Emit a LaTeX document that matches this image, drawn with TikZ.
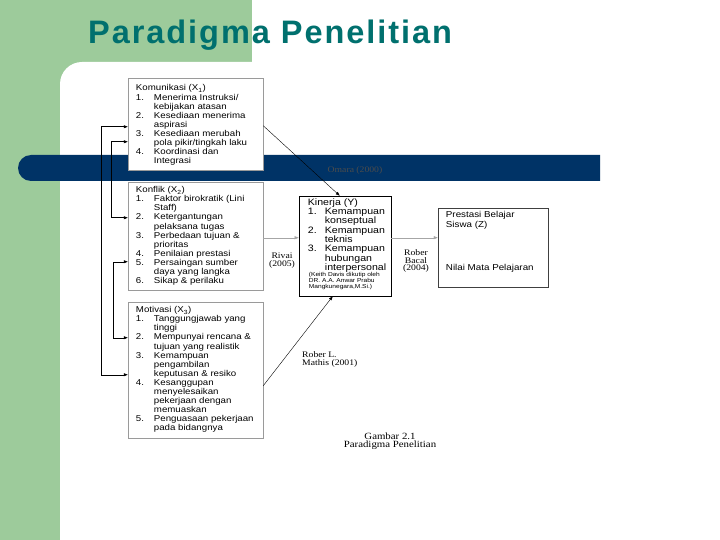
\documentclass[tikz,border=0pt]{standalone}
\usepackage{fontspec}
\setmainfont{Liberation Sans}[FakeStretch=1.14]
\newfontfamily\titlefont{Liberation Sans}[LetterSpace=6]
\newfontfamily\reffont{Liberation Serif}[FakeStretch=1.14]
\usetikzlibrary{arrows.meta,calc}
\definecolor{leaf}{HTML}{9DCB9B}
\definecolor{navy}{HTML}{003366}
\definecolor{headc}{HTML}{00706E}
\definecolor{rim}{HTML}{9A9A9A}
\newcommand{\boxfont}{\fontsize{8.5}{9.1}\selectfont}
\newcommand{\kinfont}{\fontsize{9.3}{9.14}\selectfont}
\newcommand{\notefont}{\fontsize{5.8}{6}\selectfont}
\newcommand{\resfont}{\fontsize{8.6}{10}\selectfont}
\newcommand{\head}[1]{\multicolumn{2}{@{}l@{}}{#1}\\}
\newcommand{\listbox}[2]{{\renewcommand{\arraystretch}{1}\begin{tabular}{@{}p{#1}@{}l@{}}#2\end{tabular}}}
\tikzset{
  var/.style={draw=rim, fill=white, line width=0.5pt, inner sep=0pt},
  dep/.style={draw=black, fill=white, line width=0.6pt, inner sep=0pt},
  txt/.style={anchor=north west, inner sep=0pt, align=left},
  src/.style={font=\reffont\fontsize{8.5}{7.5}\selectfont, inner sep=0pt, align=center},
  link/.style={-{Triangle[length=4pt,width=3pt]}, line width=0.4pt},
  soft/.style={link, draw=gray!70},
  back/.style={{Triangle[length=4pt,width=3pt]}-{Triangle[length=4pt,width=3pt]}, line width=0.5pt},
}
\begin{document}
\begin{tikzpicture}[x=1pt,y=-1pt]
  \useasboundingbox (0,0) rectangle (720,540);
  % slide background
  \fill[leaf] (0,0) rectangle (720,540);
  \fill[white] (60,540) -- (60,84) arc[start angle=180, end angle=90, radius=22pt] -- (720,62) -- (720,540) -- cycle;
  \fill[white] (252,0) rectangle (720,62);
  \fill[navy] (600,155) -- (31,155) arc[start angle=90, end angle=270, radius=13pt] -- (600,181) -- cycle;
  \node[anchor=base west, inner sep=0pt, font=\titlefont\bfseries\fontsize{32.5}{32.5}\selectfont, text=headc] (title) at (88,44) {Paradigma Penelitian};

  % variables
  \node[var, minimum width=135pt, minimum height=92pt] (kom) at (195.5,124) {};
  \node[var, minimum width=135pt, minimum height=108pt] (kon) at (195.5,236) {};
  \node[var, minimum width=135pt, minimum height=136pt] (mot) at (195.5,370) {};
  \node[dep, minimum width=92pt, minimum height=100pt] (kin) at (345,246) {};
  \node[var, draw=black!75, minimum width=110pt, minimum height=79pt] (pres) at (493,247.5) {};

  \node[txt, font=\boxfont] (komt) at ($(kom.north west)+(8,6.6)$) {\listbox{18pt}{%
    \head{Komunikasi (X\textsubscript{1})}
    1. & Menerima Instruksi/\\
       & kebijakan atasan\\
    2. & Kesediaan menerima\\
       & aspirasi\\
    3. & Kesediaan merubah\\
       & pola pikir/tingkah laku\\
    4. & Koordinasi dan\\
       & Integrasi}};
  \node[txt, font=\boxfont] (kont) at ($(kon.north west)+(8,4.3)$) {\listbox{18pt}{%
    \head{Konflik (X\textsubscript{2})}
    1. & Faktor birokratik (Lini\\
       & Staff)\\
    2. & Ketergantungan\\
       & pelaksana tugas\\
    3. & Perbedaan tujuan \&\\
       & prioritas\\
    4. & Penilaian prestasi\\
    5. & Persaingan sumber\\
       & daya yang langka\\
    6. & Sikap \& perilaku}};
  \node[txt, font=\boxfont] (mott) at ($(mot.north west)+(8,4.3)$) {\listbox{18pt}{%
    \head{Motivasi (X\textsubscript{3})}
    1. & Tanggungjawab yang\\
       & tinggi\\
    2. & Mempunyai rencana \&\\
       & tujuan yang realistik\\
    3. & Kemampuan\\
       & pengambilan\\
       & keputusan \& resiko\\
    4. & Kesanggupan\\
       & menyelesaikan\\
       & pekerjaan dengan\\
       & memuaskan\\
    5. & Penguasaan pekerjaan\\
       & pada bidangnya}};
  \node[txt, font=\kinfont] (kint) at ($(kin.north west)+(9,2.6)$) {\listbox{17pt}{%
    \head{Kinerja (Y)}
    1. & Kemampuan\\
       & konseptual\\
    2. & Kemampuan\\
       & teknis\\
    3. & Kemampuan\\
       & hubungan\\
       & interpersonal}};
  \node[txt, font=\notefont] (kinn) at ($(kin.north west)+(10,76.8)$) {\listbox{0pt}{%
    & (Keith Davis dikutip oleh\\
    & DR. A.A. Anwar Prabu\\
    & Mangkunegara,M.Si.)}};
  \node[txt, font=\resfont] (prest) at ($(pres.north west)+(8,3)$) {\listbox{0pt}{%
    & Prestasi Belajar\\
    & Siswa (Z)}};
  \node[txt, font=\resfont] (presn) at ($(pres.north west)+(8,56)$) {\listbox{0pt}{& Nilai Mata Pelajaran}};

  % sources
  \node[src, text=black!70] (omara) at (355,170) {Omara (2000)};
  \node[src] (rivai) at (282,260.5) {Rivai\\(2005)};
  \node[src] (bacal) at (416,261) {Rober\\Bacal\\(2004)};
  \node[src, anchor=west, align=left] (mathis) at (302,359.5) {Rober L.\\Mathis (2001)};
  \node[src, font=\reffont\fontsize{9.5}{8.5}\selectfont] (gambar) at (390,441) {Gambar 2.1\\Paradigma Penelitian};

  % links
  \draw[link] ($(kom.north east)+(0,48)$) -- ($(kin.north west)+(41,0)$);
  \draw[soft] ($(kon.north east)+(0,56)$) coordinate (r) -- (r -| kin.west);
  \draw[soft] ($(kin.north east)+(0,42)$) coordinate (q) -- (q -| pres.west);
  \draw[link] ($(mot.north east)+(0,84)$) -- ($(kin.south west)+(34,0)$);

  % links between variables
  \draw[back] ($(kom.north west)+(0,49)$) -- ++(-27,0) |- ($(mot.north west)+(0,73)$);
  \draw[back] ($(kom.north west)+(0,64)$) -- ++(-17,0) |- ($(kon.north west)+(0,36)$);
  \draw[back] ($(kon.north west)+(0,80)$) -- ++(-15,0) |- ($(mot.north west)+(0,36)$);
\end{tikzpicture}
\end{document}
